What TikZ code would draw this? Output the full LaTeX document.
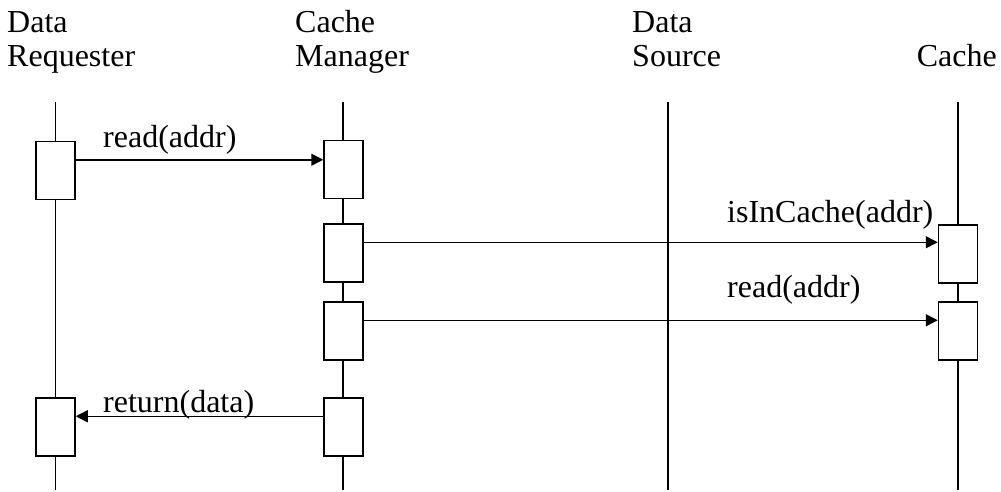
\documentclass[tikz,border=0pt]{standalone}
\usepackage{fontspec}
\setmainfont{Liberation Serif}
\usetikzlibrary{arrows.meta,calc}
\begin{document}
\begin{tikzpicture}[x=1pt,y=-1pt,
  lbl/.style={anchor=base west,inner sep=0pt,font=\fontsize{32}{36}\selectfont},
  lblr/.style={anchor=base east,inner sep=0pt,font=\fontsize{32}{36}\selectfont},
  life/.style={line width=1.5pt},
  act/.style={draw,line width=1.5pt,fill=white,minimum width=39pt,minimum height=58pt,inner sep=0pt},
  msg/.style={line width=1.5pt,-{Triangle[length=12pt,width=12pt]}}]
\useasboundingbox (0,0) rectangle (1001,492);
% participant headings
\node[lbl] (rqA) at (7,33) {Data};
\node[lbl] (rqB) at (7,67) {Requester};
\node[lbl] (cmA) at (295,33) {Cache};
\node[lbl] (cmB) at (295,67) {Manager};
\node[lbl] (dsA) at (632,33) {Data};
\node[lbl] (dsB) at (632,67) {Source};
\node[lblr] (caB) at (997,67) {Cache};
% lifelines
\coordinate (rqT) at (55.5,102); \coordinate (rqE) at (55.5,490);
\coordinate (cmT) at (343,102);  \coordinate (cmE) at (343,490);
\coordinate (dsT) at (668,102);  \coordinate (dsE) at (668,490);
\coordinate (caT) at (958,102);  \coordinate (caE) at (958,490);
\draw[life] (rqT) -- (rqE);
\draw[life] (cmT) -- (cmE);
\draw[life] (dsT) -- (dsE);
\draw[life] (caT) -- (caE);
% activation boxes
\node[act] (rq1) at (55.5,170.5) {};
\node[act] (rq2) at (55.5,427) {};
\node[act] (cm1) at (343.5,169.5) {};
\node[act] (cm2) at (343.5,253) {};
\node[act] (cm3) at (343.5,331) {};
\node[act] (cm4) at (343.5,427) {};
\node[act] (ca1) at (958,254) {};
\node[act] (ca2) at (958,331) {};
% messages
\draw[msg] ($(rq1.north east)+(0,19)$) -- ($(cm1.north west)+(0,20)$);
\draw[msg] ($(cm2.north east)+(0,19)$) -- ($(ca1.north west)+(0,18)$);
\draw[msg] ($(cm3.north east)+(0,19)$) -- ($(ca2.north west)+(0,19)$);
\draw[msg] ($(cm4.north west)+(0,19)$) -- ($(rq2.north east)+(0,19)$);
% message labels
\node[lbl] (m1) at (103,147) {read(addr)};
\node[lbl] (m2) at (727,222) {isInCache(addr)};
\node[lbl] (m3) at (727,297) {read(addr)};
\node[lbl] (m4) at (103,412) {return(data)};
\end{tikzpicture}
\end{document}
